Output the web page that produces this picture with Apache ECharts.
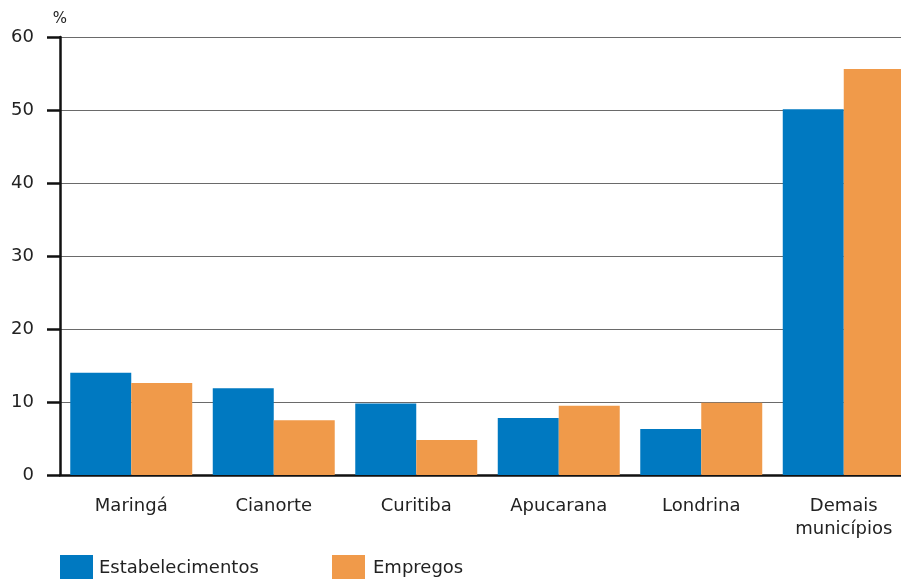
<!DOCTYPE html>
<html>
<head>
<meta charset="utf-8">
<script src="https://cdn.jsdelivr.net/npm/echarts@6/dist/echarts.min.js"></script>
<style>html,body{margin:0;padding:0;background:#fff}#c{width:901px;height:579px}</style>
</head>
<body>
<div id="c"></div>
<script>
const categories = ['Maringá', 'Cianorte', 'Curitiba', 'Apucarana', 'Londrina', 'Demais\nmunicípios'];
const estabelecimentos = [14.0, 11.9, 9.8, 7.8, 6.3, 50.1];
const empregos = [12.6, 7.5, 4.8, 9.5, 9.9, 55.6];
const yTicks = [0, 10, 20, 30, 40, 50, 60];

const chart = echarts.init(document.getElementById('c'));
const font = 'DejaVu Sans';
chart.setOption({
  animation: false,
  grid: { left: 60, width: 855, top: 37, height: 438, outerBoundsMode: 'none', containLabel: false },
  legend: [
    { data: ['Estabelecimentos'], left: 60, top: 555, itemWidth: 33, itemHeight: 26, itemGap: 0,
      textStyle: { fontFamily: font, fontSize: 18, color: '#222', padding: [0,0,0,1] }, padding: 0, icon: 'rect' },
    { data: ['Empregos'], left: 332, top: 555, itemWidth: 33, itemHeight: 26, itemGap: 0,
      textStyle: { fontFamily: font, fontSize: 18, color: '#222', padding: [0,0,0,3] }, padding: 0, icon: 'rect' }
  ],
  xAxis: {
    type: 'category',
    data: categories,
    axisLine: { lineStyle: { color: '#111', width: 2.5 } },
    axisTick: { show: false },
    axisLabel: { fontFamily: font, fontSize: 18, color: '#222', margin: 20, lineHeight: 23, interval: 0 }
  },
  yAxis: {
    type: 'value',
    min: 0, max: 60, interval: 10,
    name: '%',
    nameLocation: 'end',
    nameGap: 10,
    nameTextStyle: { fontFamily: font, fontSize: 15, color: '#222' },
    axisLine: { show: true, lineStyle: { color: '#111', width: 2.5 } },
    axisTick: { show: true, length: 13, lineStyle: { color: '#111', width: 2.5 } },
    axisLabel: { fontFamily: font, fontSize: 18, color: '#222', margin: 26,
      formatter: v => yTicks.includes(v) ? String(v) : '' },
    splitLine: { lineStyle: { color: '#6a6a6a', width: 1.2 } }
  },
  series: [
    { name: 'Estabelecimentos', type: 'bar', data: estabelecimentos, barGap: '0%', barCategoryGap: '14.4%',
      itemStyle: { color: '#0079C1' } },
    { name: 'Empregos', type: 'bar', data: empregos, barGap: '0%', barCategoryGap: '14.4%',
      itemStyle: { color: '#F09A4A' } }
  ]
});
</script>
</body>
</html>
